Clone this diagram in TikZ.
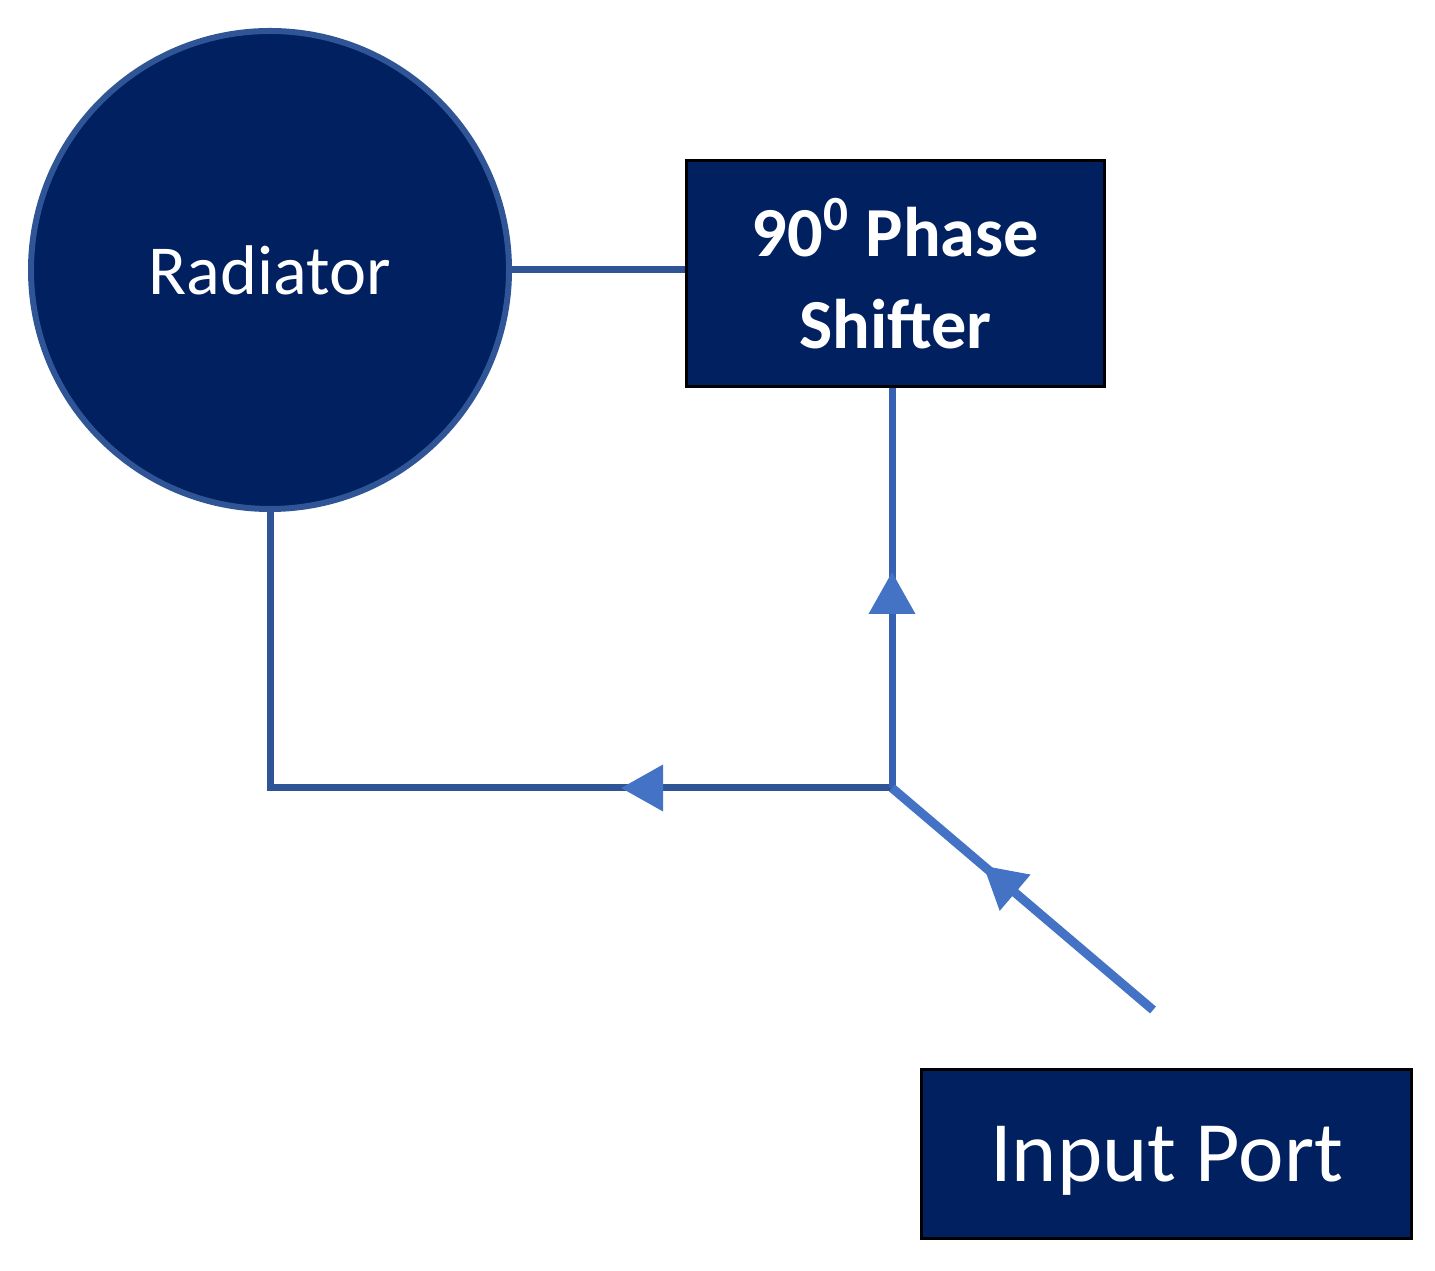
\documentclass[tikz,border=0pt]{standalone}
\usepackage{fontspec}
\setmainfont{Carlito}
\usepackage{xcolor}
\usetikzlibrary{arrows.meta,calc,positioning,decorations.markings}
\definecolor{navy}{HTML}{002060}
\definecolor{rim}{HTML}{2F5597}
\definecolor{midline}{HTML}{3762B4}
\definecolor{feedline}{HTML}{4472C4}
\tikzset{>=latex}
\tikzset{block/.style={draw=black,line width=0.03cm,fill=navy,text=white,align=center},
tipat/.style={postaction={decorate},decoration={markings,mark=at position #1 with {\arrow{Triangle[length=0.42cm,width=0.45cm,color=feedline]}}}}}

\begin{document}
\begin{tikzpicture}
\useasboundingbox (0,0) rectangle (14.35,12.70);
\node[circle,draw=rim,line width=0.06cm,fill=navy,text=white,minimum size=4.78cm,font=\fontsize{20}{24}\selectfont] (rad) at (2.70,10.00) {Radiator};
\node[block,minimum width=4.18cm,minimum height=2.26cm,font=\bfseries\fontsize{20}{26}\selectfont] (phase) at (8.955,9.965) {90\textsuperscript{0} Phase\\Shifter};
\node[block,minimum width=4.90cm,minimum height=1.69cm,text depth=0pt,font=\fontsize{24.5}{29}\selectfont] (port) at (11.665,1.16) {Input Port};
\coordinate (split) at (8.92,4.82);
\coordinate (feed) at (11.53,2.60);
\draw[rim,line width=0.07cm] (rad.east) -- (rad.east -| phase.west);
\draw[rim,line width=0.07cm,tipat=2.71cm] (split) -| (rad.south);
\draw[midline,line width=0.07cm,tipat=2.16cm] (split) -- (split |- phase.south);
\draw[feedline,line width=0.09cm,tipat=2.23cm] (feed) -- (split);
\end{tikzpicture}
\end{document}
